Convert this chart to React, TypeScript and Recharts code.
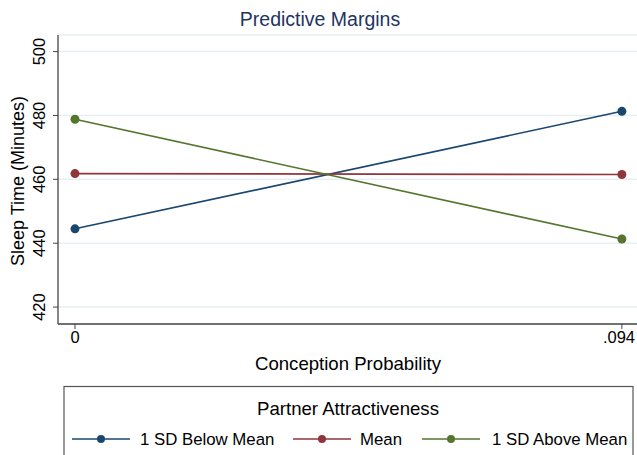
import { LineChart, Line, XAxis, YAxis, CartesianGrid } from 'recharts'

const conception = [0, 0.094]
const belowMean = [444.5, 481.3]
const meanVals = [461.8, 461.5]
const aboveMean = [478.8, 441.3]
const yTicks = [420, 440, 460, 480, 500]
const xTicks = [0, 0.094]
const xTickLabels = ['0', '.094']

const SERIES = [
  { key: 'below', name: '1 SD Below Mean', color: '#1a476f' },
  { key: 'mean', name: 'Mean', color: '#90353b' },
  { key: 'above', name: '1 SD Above Mean', color: '#55752f' },
]

const data = conception.map((x, i) => ({
  x, below: belowMean[i], mean: meanVals[i], above: aboveMean[i],
}))

const FONT = 'Liberation Sans, Arial, sans-serif'

const YTick = ({ x, y, payload }: any) => (
  <text transform={`translate(${x},${y}) rotate(-90)`} textAnchor='middle'
    fontSize={16.5} fontFamily={FONT} fill='#000'>{payload.value}</text>
)

const XTick = ({ x, y, payload }: any) => (
  <text x={x} y={y} dy={12} textAnchor='middle' fontSize={16.5} fontFamily={FONT} fill='#000'>
    {xTickLabels[xTicks.indexOf(payload.value)]}
  </text>
)

// legend item x positions (line start)
const legendX = [72, 293, 422]
const legendTextX = [140, 360, 492]

export default function App() {
  return (
    <div style={{ position: 'absolute', left: 0, top: 0, width: 637, height: 455, background: '#fff', overflow: 'hidden' }}>
      <LineChart width={637} height={455} data={data}
        margin={{ top: 35, right: 0, bottom: 101, left: 0 }}>
        <CartesianGrid vertical={false} stroke='#e6eff3' strokeWidth={1.5} />
        <XAxis dataKey='x' type='number' domain={[-0.00292, 0.0966]} ticks={xTicks}
          height={30} tickSize={5} tickMargin={2} tick={<XTick />}
          axisLine={{ stroke: '#444', strokeWidth: 1.3 }} tickLine={{ stroke: '#444' }}
          allowDataOverflow />
        <YAxis type='number' domain={[414.7, 505.2]} ticks={yTicks} width={58}
          tickSize={5} tickMargin={8} tick={<YTick />}
          axisLine={{ stroke: '#444', strokeWidth: 1.3 }} tickLine={{ stroke: '#444' }}
          allowDataOverflow />
        {SERIES.map(s => (
          <Line key={s.key} dataKey={s.key} name={s.name} stroke={s.color} strokeWidth={1.6}
            dot={{ r: 4.5, fill: s.color, stroke: s.color, strokeWidth: 0 }}
            isAnimationActive={false} />
        ))}
      </LineChart>
      <svg width={637} height={455} style={{ position: 'absolute', left: 0, top: 0, pointerEvents: 'none' }}>
        <text x={320} y={26} textAnchor='middle' fontSize={19.5} fontFamily={FONT} fill='#1e3461'>Predictive Margins</text>
        <text transform='translate(24,181) rotate(-90)' textAnchor='middle' fontSize={18} fontFamily={FONT} fill='#000'>Sleep Time (Minutes)</text>
        <text x={348} y={370} textAnchor='middle' fontSize={18.6} fontFamily={FONT} fill='#000'>Conception Probability</text>
        <rect x={64} y={386.5} width={569} height={80} fill='none' stroke='#555' strokeWidth={1.2} />
        <text x={348} y={414.5} textAnchor='middle' fontSize={18.6} fontFamily={FONT} fill='#000'>Partner Attractiveness</text>
        {SERIES.map((s, i) => (
          <g key={s.key}>
            <line x1={legendX[i]} x2={legendX[i] + 58} y1={439} y2={439} stroke={s.color} strokeWidth={1.6} />
            <circle cx={legendX[i] + 29} cy={439} r={4} fill={s.color} />
            <text x={legendTextX[i]} y={445} fontSize={16.8} fontFamily={FONT} fill='#000'>{s.name}</text>
          </g>
        ))}
      </svg>
    </div>
  )
}
